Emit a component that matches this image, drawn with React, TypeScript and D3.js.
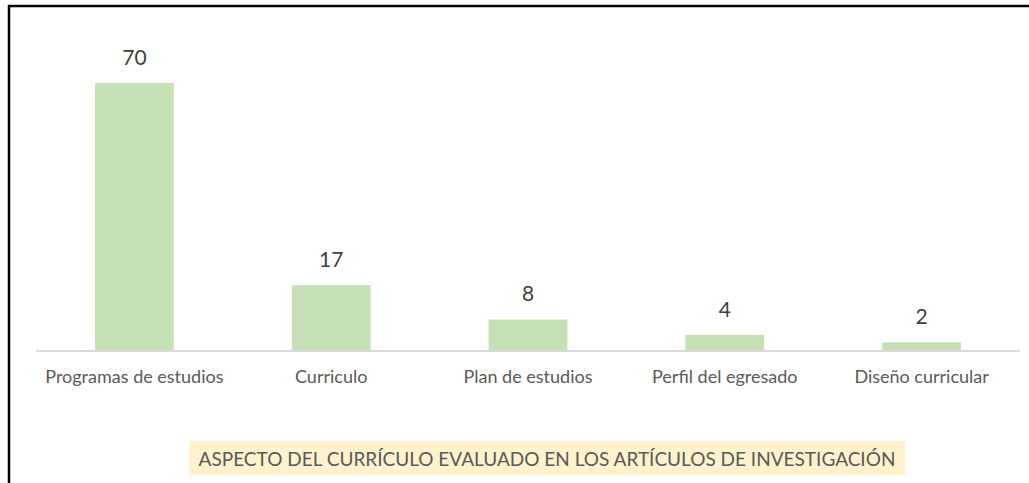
import React, { useEffect, useRef } from "react";
import * as d3 from "d3";

const categories = [
  "Programas de estudios",
  "Curriculo",
  "Plan de estudios",
  "Perfil del egresado",
  "Diseño curricular",
];
const values = [70, 17, 8, 4, 2];
const title = "ASPECTO DEL CURRÍCULO EVALUADO EN LOS ARTÍCULOS DE INVESTIGACIÓN";

const W = 1029;
const H = 483;
const FONT = "Lato, 'Noto Sans', sans-serif";

const App: React.FC = () => {
  const svgRef = useRef<SVGSVGElement>(null);

  useEffect(() => {
    if (!svgRef.current) return;
    const svg = d3.select(svgRef.current);
    svg.selectAll("*").remove();

    svg.append("rect").attr("width", W).attr("height", H).attr("fill", "#fff");

    // outer frame (only top and left visible)
    svg.append("line")
      .attr("x1", 8).attr("x2", W).attr("y1", 6).attr("y2", 6)
      .attr("stroke", "#000").attr("stroke-width", 2.5);
    svg.append("line")
      .attr("x1", 9).attr("x2", 9).attr("y1", 5).attr("y2", H)
      .attr("stroke", "#000").attr("stroke-width", 2.5);

    const x = d3.scaleBand<string>()
      .domain(categories)
      .range([36, 1020])
      .paddingInner(0.6)
      .paddingOuter(0.3);

    const y = d3.scaleLinear()
      .domain([0, 70])
      .range([350, 83]);

    // bars
    svg.append("g")
      .selectAll("rect")
      .data(values)
      .enter().append("rect")
      .attr("x", (d, i) => x(categories[i])!)
      .attr("y", d => y(d))
      .attr("width", x.bandwidth())
      .attr("height", d => y(0) - y(d))
      .attr("fill", "#c5e0b4");

    // axis line
    svg.append("line")
      .attr("x1", 36).attr("x2", 1020)
      .attr("y1", y(0) + 1).attr("y2", y(0) + 1)
      .attr("stroke", "#d9d9d9").attr("stroke-width", 2);

    // value labels
    svg.append("g")
      .selectAll("text")
      .data(values)
      .enter().append("text")
      .attr("x", (d, i) => x(categories[i])! + x.bandwidth() / 2)
      .attr("y", d => y(d) - 18)
      .attr("text-anchor", "middle")
      .attr("font-family", FONT)
      .attr("font-size", 21)
      .attr("fill", "#404040")
      .text(d => d);

    // category labels
    svg.append("g")
      .selectAll("text")
      .data(categories)
      .enter().append("text")
      .attr("x", d => x(d)! + x.bandwidth() / 2)
      .attr("y", 383)
      .attr("text-anchor", "middle")
      .attr("font-family", FONT)
      .attr("font-size", 18)
      .attr("fill", "#595959")
      .text(d => d);

    // title with highlight
    svg.append("rect")
      .attr("x", 189).attr("y", 441)
      .attr("width", 716).attr("height", 34)
      .attr("fill", "#fff2cc");
    svg.append("text")
      .attr("x", 547).attr("y", 466)
      .attr("text-anchor", "middle")
      .attr("font-family", FONT)
      .attr("font-size", 19)
      .attr("fill", "#595959")
      .text(title);
  }, []);

  return (
    <svg
      ref={svgRef}
      width={W}
      height={H}
      style={{ position: "absolute", left: 0, top: 0 }}
    />
  );
};

export default App;
